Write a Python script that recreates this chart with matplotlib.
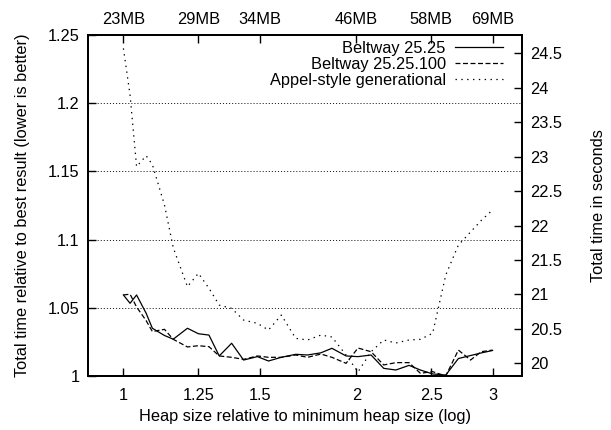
import numpy as np
import matplotlib
matplotlib.use("Agg")
from matplotlib import pyplot as plt
from matplotlib.ticker import FixedLocator, NullLocator

### data
heap = [1.00, 1.02, 1.04, 1.07, 1.09, 1.13, 1.16, 1.21, 1.25, 1.29, 1.33,
        1.38, 1.43, 1.49, 1.54, 1.60, 1.67, 1.73, 1.80, 1.86, 1.94, 2.01,
        2.09, 2.17, 2.25, 2.34, 2.42, 2.51, 2.61, 2.71, 2.81, 2.90, 3.00]

beltway = [1.0594, 1.0533, 1.0594, 1.046, 1.035, 1.0297, 1.027, 1.035, 1.031,
           1.030, 1.0147, 1.024, 1.0117, 1.0142, 1.011, 1.0137, 1.0159, 1.0154,
           1.017, 1.0203, 1.0147, 1.0142, 1.0154, 1.0056, 1.0044, 1.0078,
           1.0044, 1.0015, 1.0007, 1.0128, 1.015, 1.0169, 1.0187]

beltway100 = [1.0594, 1.060, 1.0506, 1.0406, 1.0326, 1.0342, 1.0269, 1.0213,
              1.0222, 1.0215, 1.0147, 1.0137, 1.0122, 1.0147, 1.0137, 1.0137,
              1.0154, 1.0137, 1.0161, 1.0137, 1.0093, 1.0205, 1.0178, 1.0081,
              1.0098, 1.0098, 1.002, 1.0032, 1.000, 1.019, 1.0117, 1.0178, 1.019]

appel = [1.2402, 1.206, 1.1535, 1.1615, 1.155, 1.1254, 1.094, 1.0655, 1.0753,
         1.0643, 1.052, 1.0496, 1.041, 1.0386, 1.0337, 1.0447, 1.0276, 1.0264,
         1.030, 1.0286, 1.0154, 1.003, 1.0178, 1.0264, 1.0242, 1.0264, 1.0269,
         1.0313, 1.074, 1.096, 1.1056, 1.114, 1.1217]

labels = ['Beltway 25.25', 'Beltway 25.25.100', 'Appel-style generational']

xticks = [1, 1.25, 1.5, 2, 2.5, 3]
xticklabels = ['1', '1.25', '1.5', '2', '2.5', '3']
mb_labels = ['23MB', '29MB', '34MB', '46MB', '58MB', '69MB']
yticks = [1, 1.05, 1.1, 1.15, 1.2, 1.25]
yticklabels = ['1', '1.05', '1.1', '1.15', '1.2', '1.25']
sec_ticks = [20, 20.5, 21, 21.5, 22, 22.5, 23, 23.5, 24, 24.5]
best_time = 19.815

### style
plt.rcParams['font.family'] = ['Liberation Sans', 'DejaVu Sans']
plt.rcParams['font.size'] = 11.8
plt.rcParams['lines.scale_dashes'] = False

fig = plt.figure(figsize=(6.11, 4.30), dpi=100)
ax = fig.add_axes([88/611, 1 - 376/430, (521.5 - 88)/611, (376 - 35)/430])

ax.plot(heap, beltway, color='black', lw=0.9, linestyle='-', label=labels[0])
ax.plot(heap, beltway100, color='black', lw=0.9, linestyle=(0, (3.6, 1.8)), label=labels[1])
ax.plot(heap, appel, color='black', lw=0.9, linestyle=(0, (1.0, 3.2)), label=labels[2])

ax.set_xscale('log')
ax.set_xlim(0.9, 3.27)
ax.set_ylim(1, 1.25)
ax.xaxis.set_major_locator(FixedLocator(xticks))
ax.xaxis.set_minor_locator(NullLocator())
ax.set_xticklabels(xticklabels)
ax.set_yticks(yticks)
ax.set_yticklabels(yticklabels)
ax.tick_params(direction='in', length=6, width=1, pad=6)
ax.tick_params(axis='x', pad=9)

for y in yticks[1:-1]:
    ax.axhline(y, color='black', lw=0.6, linestyle=(0, (0.8, 1.4)), zorder=0)

for s in ax.spines.values():
    s.set_linewidth(1.4)

ax.set_xlabel('Heap size relative to minimum heap size (log)', labelpad=4)
ax.set_ylabel('Total time relative to best result (lower is better)', labelpad=13)

# right axis: seconds
ax2 = ax.twinx()
ax2.set_ylim(best_time * 1, best_time * 1.25)
ax2.set_yticks(sec_ticks)
ax2.set_yticklabels(['%g' % t for t in sec_ticks])
ax2.tick_params(direction='in', length=6, width=1, pad=6)
ax2.set_ylabel('Total time in seconds', labelpad=21)

# top axis: heap size in MB
ax3 = ax.twiny()
ax3.set_xscale('log')
ax3.set_xlim(ax.get_xlim())
ax3.xaxis.set_major_locator(FixedLocator(xticks))
ax3.xaxis.set_minor_locator(NullLocator())
ax3.set_xticklabels(mb_labels)
ax3.tick_params(direction='in', length=6, width=1, pad=6)

for a in (ax2, ax3):
    for s in a.spines.values():
        s.set_linewidth(1.4)

leg = ax.legend(loc='upper right', frameon=False, markerfirst=False,
                handlelength=2.9, handletextpad=0.6, labelspacing=0.06,
                borderaxespad=0.0, borderpad=0.0,
                bbox_to_anchor=((503 - 88) / 433.5, 1 - 6 / 341))
for t in leg.get_texts():
    t.set_ha('right')

fig.savefig('out.png', dpi=100)
